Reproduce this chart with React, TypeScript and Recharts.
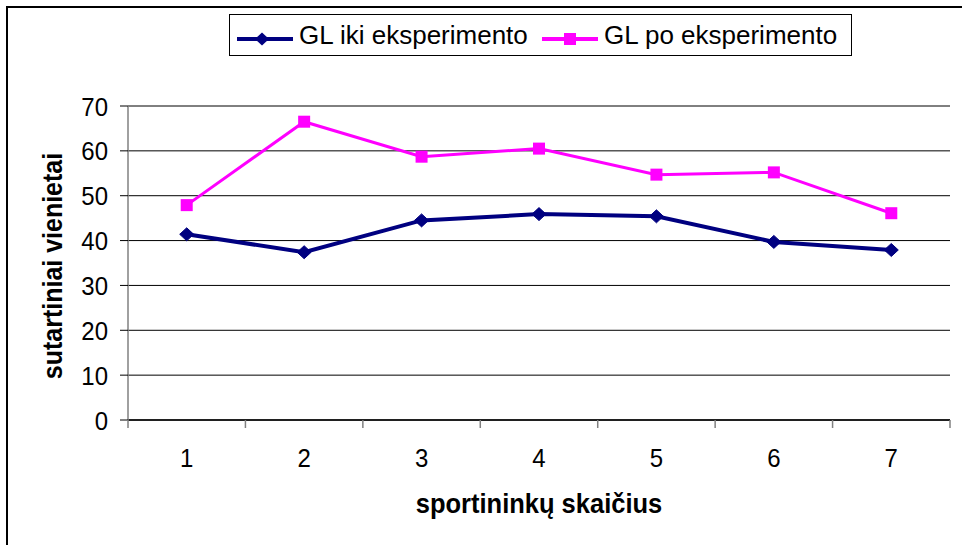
import React from 'react';
import { LineChart, Line, XAxis, YAxis, CartesianGrid, Legend, Label } from 'recharts';

const categories = [1, 2, 3, 4, 5, 6, 7];
const glIki = [41.4, 37.4, 44.5, 45.9, 45.4, 39.7, 37.9];
const glPo = [47.9, 66.5, 58.7, 60.5, 54.7, 55.2, 46.1];
const xTicks = [0.5, 1, 1.5, 2, 2.5, 3, 3.5, 4, 4.5, 5, 5.5, 6, 6.5, 7, 7.5];
const yTicks = [0, 10, 20, 30, 40, 50, 60, 70];

const seriesIkiName = 'GL iki eksperimento';
const seriesPoName = 'GL po eksperimento';
const xTitle = 'sportininkų skaičius';
const yTitle = 'sutartiniai vienietai';

const data = categories.map((c, i) => ({ x: c, iki: glIki[i], po: glPo[i] }));

const FONT = '"Liberation Sans", Arial, sans-serif';
const BLUE = '#000080';
const PINK = '#FF00FF';
const STRETCH = 1.1;

const Diamond = (props: any) => {
  const { cx, cy, index } = props;
  if (cx == null || cy == null) return <g key={`dd-${index}`} />;
  const rx = 7;
  const ry = 6.5;
  return (
    <polygon
      key={`dd-${index}`}
      points={`${cx},${cy - ry} ${cx + rx},${cy} ${cx},${cy + ry} ${cx - rx},${cy}`}
      fill={BLUE}
      stroke={BLUE}
      strokeWidth={1}
    />
  );
};

const Square = (props: any) => {
  const { cx, cy, index } = props;
  if (cx == null || cy == null) return <g key={`sq-${index}`} />;
  const s = 12;
  return <rect key={`sq-${index}`} x={cx - s / 2} y={cy - s / 2} width={s} height={s} fill={PINK} />;
};

const XTick = (props: any) => {
  const { x, y, payload } = props;
  const v = payload.value;
  if (Math.abs(v % 1) > 0.01) {
    return <line x1={x} x2={x} y1={y} y2={y + 8} stroke="#808080" strokeWidth={1.5} />;
  }
  return (
    <text
      transform={`translate(${x},${y + 47}) scale(1,${STRETCH})`}
      textAnchor="middle"
      fontFamily={FONT}
      fontSize={24}
      fill="#000"
    >
      {v}
    </text>
  );
};

const YTick = (props: any) => {
  const { x, y, payload } = props;
  return (
    <text
      transform={`translate(${x},${y}) scale(1,${STRETCH})`}
      textAnchor="end"
      dy="0.36em"
      fontFamily={FONT}
      fontSize={24}
      fill="#000"
    >
      {payload.value}
    </text>
  );
};

const LegendBox = (props: any) => {
  const payload = props.payload || [];
  const ikiItem = payload.find((p: any) => p.dataKey === 'iki');
  const poItem = payload.find((p: any) => p.dataKey === 'po');
  return (
    <svg width={624} height={43} style={{ display: 'block' }}>
      <rect x={0.5} y={0.5} width={622} height={41} fill="#fff" stroke="#000" strokeWidth={1} />
      <line x1={8} x2={64} y1={25} y2={25} stroke={BLUE} strokeWidth={4} />
      <polygon points="33,18.5 40,25 33,31.5 26,25" fill={BLUE} />
      <text x={70} y={29.5} fontFamily={FONT} fontSize={26} fill="#000">
        {ikiItem ? ikiItem.value : seriesIkiName}
      </text>
      <line x1={313} x2={369} y1={25} y2={25} stroke={PINK} strokeWidth={4} />
      <rect x={335} y={19} width={12} height={12} fill={PINK} />
      <text x={375} y={29.5} fontFamily={FONT} fontSize={26} fill="#000">
        {poItem ? poItem.value : seriesPoName}
      </text>
    </svg>
  );
};

export default function App() {
  return (
    <div style={{ position: 'absolute', left: 0, top: 0, width: 962, height: 545, background: '#fff', overflow: 'hidden' }}>
      <div
        style={{
          position: 'absolute',
          left: 6,
          top: 6,
          width: 980,
          height: 600,
          borderLeft: '2px solid #000',
          borderTop: '2px solid #000',
          boxSizing: 'border-box',
        }}
      />
      <div style={{ position: 'absolute', left: 0, top: 0 }}>
        <LineChart width={962} height={545} data={data} margin={{ top: 106, right: 12, left: 0, bottom: 0 }}>
          <CartesianGrid horizontal={true} vertical={false} stroke="#000" strokeWidth={1} />
          <XAxis
            dataKey="x"
            type="number"
            domain={[0.5, 7.5]}
            ticks={xTicks}
            interval={0}
            tickLine={false}
            tickSize={0}
            tickMargin={0}
            axisLine={{ stroke: '#000', strokeWidth: 1.5 }}
            tick={<XTick />}
            height={125}
          >
            <Label
              content={(p: any) => {
                const vb = p.viewBox || { x: 128, y: 420, width: 822 };
                const cx = vb.x + vb.width / 2;
                const cy = vb.y + 93;
                return (
                  <text
                    transform={`translate(${cx},${cy}) scale(1,${STRETCH})`}
                    textAnchor="middle"
                    fontFamily={FONT}
                    fontWeight="bold"
                    fontSize={25.5}
                    fill="#000"
                  >
                    {xTitle}
                  </text>
                );
              }}
            />
          </XAxis>
          <YAxis
            type="number"
            domain={[0, 70]}
            ticks={yTicks}
            interval={0}
            width={128}
            tickSize={8}
            tickMargin={12}
            tickLine={{ stroke: '#000' }}
            axisLine={{ stroke: '#808080', strokeWidth: 1.5 }}
            tick={<YTick />}
          >
            <Label
              content={(p: any) => {
                const vb = p.viewBox || { x: 0, y: 106, width: 128, height: 314 };
                const cx = 62;
                const cy = vb.y + vb.height / 2 + 3;
                return (
                  <text
                    transform={`translate(${cx},${cy}) rotate(-90) scale(1,${STRETCH})`}
                    textAnchor="middle"
                    fontFamily={FONT}
                    fontWeight="bold"
                    fontSize={25}
                    fill="#000"
                  >
                    {yTitle}
                  </text>
                );
              }}
            />
          </YAxis>
          <Legend
            verticalAlign="middle"
            layout="horizontal"
            content={<LegendBox />}
            wrapperStyle={{ position: 'absolute', left: 229, top: 14, width: 624, height: 43 }}
          />
          <Line
            type="linear"
            dataKey="iki"
            name={seriesIkiName}
            stroke={BLUE}
            strokeWidth={4}
            dot={Diamond}
            activeDot={false}
            isAnimationActive={false}
          />
          <Line
            type="linear"
            dataKey="po"
            name={seriesPoName}
            stroke={PINK}
            strokeWidth={3}
            dot={Square}
            activeDot={false}
            isAnimationActive={false}
          />
        </LineChart>
      </div>
    </div>
  );
}
